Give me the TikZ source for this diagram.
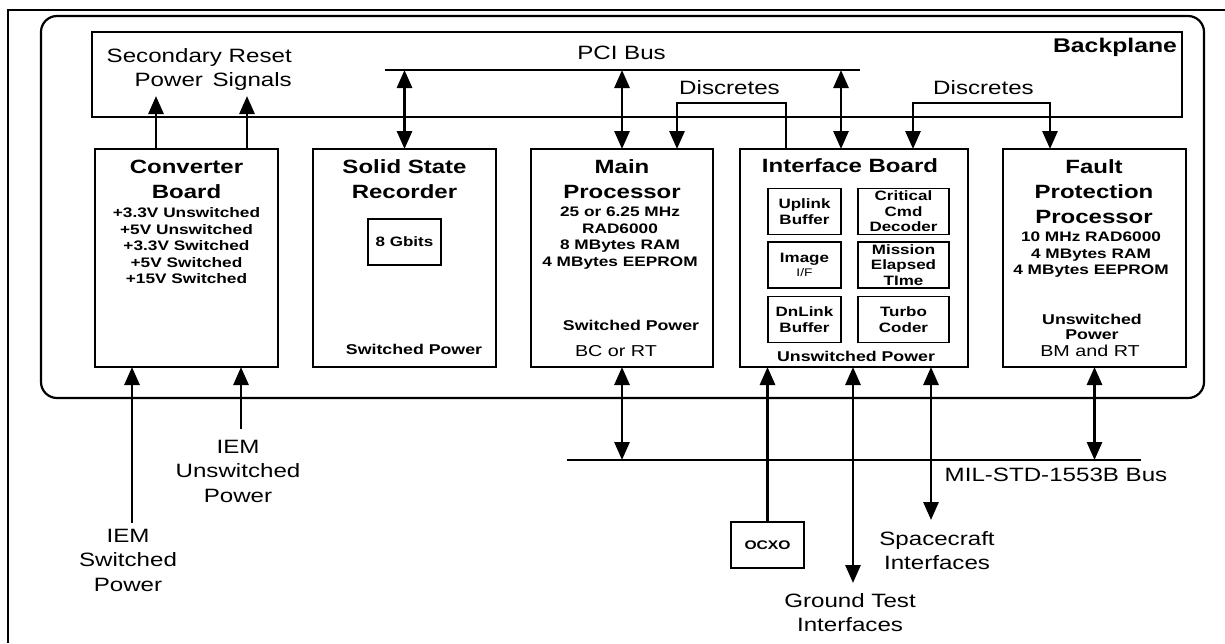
\documentclass[tikz,border=0pt]{standalone}
\usepackage{fontspec}
\setmainfont{Liberation Sans}[FakeStretch=1.25]
\usetikzlibrary{arrows.meta}
\begin{document}
\begin{tikzpicture}[x=1pt,y=-1pt,
  board/.style={draw, line width=2.9pt, inner sep=0pt, outer sep=0pt},
  sub/.style={draw, line width=1.7pt, inner sep=0pt, outer sep=0pt, minimum height=46pt,
    font=\bfseries\fontsize{13.6}{16}\selectfont, align=center},
  arr/.style={line width=2.9pt, -{Triangle[length=18pt,width=15pt]}},
  darr/.style={line width=2.9pt, {Triangle[length=18pt,width=15pt]}-{Triangle[length=18pt,width=15pt]}},
  bus/.style={line width=2.9pt},
  ttl/.style={font=\bfseries\fontsize{19.2}{25}\selectfont, align=center, inner sep=0pt, anchor=north},
  det/.style={font=\bfseries\fontsize{13.8}{16.5}\selectfont, align=center, inner sep=0pt, anchor=north},
  pwr/.style={font=\bfseries\fontsize{14.2}{15.5}\selectfont, align=center, inner sep=0pt, anchor=north},
  lbl/.style={font=\fontsize{19.3}{24.5}\selectfont, align=center, inner sep=0pt, anchor=north},
  sml/.style={font=\fontsize{15.8}{18}\selectfont, align=center, inner sep=0pt, anchor=north}]
\useasboundingbox (0,0) rectangle (1225,643);
% outer frame
\draw[line width=2.6pt] (8,643) -- (8,10) -- (1225,10);
% backplane outline and bar
\node[draw, line width=2.2pt, rounded corners=16pt, minimum width=1163pt, minimum height=382pt, inner sep=0pt] (bpo) at (622.5,207) {};
\node[draw, line width=2.6pt, minimum width=1090pt, minimum height=85pt, inner sep=0pt] (bpr) at (637,74.5) {};
\node[font=\bfseries\fontsize{19.8}{24}\selectfont, inner sep=0pt, anchor=north] (bpt) at (1115,38) {Backplane};
\node[lbl, align=right, anchor=north east] (srt) at (292,48) {Secondary Reset\\Power\enspace Signals};
\node[lbl] (pcit) at (621.5,46) {PCI Bus};
\node[lbl] (d1t) at (729.5,80) {Discretes};
\node[lbl] (d2t) at (983.5,80) {Discretes};
% boards
\node[board, minimum width=183pt, minimum height=218pt] (cb) at (186.5,258) {};
\node[board, minimum width=183pt, minimum height=218pt] (ssr) at (404.5,258) {};
\node[board, minimum width=182pt, minimum height=218pt] (mp) at (622,258) {};
\node[board, minimum width=228pt, minimum height=218pt] (ib) at (854,258) {};
\node[board, minimum width=183pt, minimum height=218pt] (fp) at (1094.5,258) {};
% converter text
\node[ttl] (cbt) at (186.5,159.5) {Converter\\Board};
\node[det] (cbd) at (186.5,207.5) {+3.3V Unswitched\\+5V Unswitched\\+3.3V Switched\\+5V Switched\\+15V Switched};
% SSR text
\node[ttl] (ssrt) at (404.5,159.5) {Solid State\\Recorder};
\node[sub, minimum width=73pt] (gb) at (404.5,242) {8 Gbits};
\node[pwr] (ssrp) at (414,344) {Switched Power};
% main processor text
\node[ttl] (mpt) at (622,159.5) {Main\\Processor};
\node[det] (mpd) at (620,207) {25 or 6.25 MHz\\RAD6000\\8 MBytes RAM\\4 MBytes EEPROM};
\node[pwr] (mpp) at (631,320) {Switched Power};
\node[sml] (mpb) at (616,345) {BC or RT};
% interface board
\node[ttl] (ibt) at (850,158) {Interface Board};
\node[sub, minimum width=73pt] (ub) at (804.5,211.5) {Uplink\\Buffer};
\node[sub, minimum width=73pt] (imf) at (804.5,265) {Image\\[-2pt]{\mdseries\fontsize{11}{12}\selectfont I/F}};
\node[sub, minimum width=73pt] (dl) at (804.5,319.5) {DnLink\\Buffer};
\node[sub, minimum width=91pt, font=\bfseries\fontsize{13.6}{15.5}\selectfont] (ccd) at (903.5,211.5) {Critical\\Cmd\\Decoder};
\node[sub, minimum width=91pt, font=\bfseries\fontsize{13.6}{15.5}\selectfont] (met) at (903.5,265) {Mission\\Elapsed\\TIme};
\node[sub, minimum width=91pt] (tc) at (903.5,319.5) {Turbo\\Coder};
\node[pwr] (ibp) at (856,351) {Unswitched Power};
% fault protection
\node[ttl] (fpt) at (1094,159.5) {Fault\\Protection\\Processor};
\node[det] (fpd) at (1091,232) {10 MHz RAD6000\\4 MBytes RAM\\4 MBytes EEPROM};
\node[pwr] (fpp) at (1092,314) {Unswitched\\Power};
\node[sml] (fpb) at (1090,345) {BM and RT};
% PCI bus
\coordinate (pciL) at (385,70);
\coordinate (pciR) at (860,70);
\coordinate (pciI) at (841,70);
\draw[bus] (pciL) -- (pciR);
\draw[darr] (ssr.north |- pciL) -- (ssr.north);
\draw[darr] (mp.north |- pciL) -- (mp.north);
\draw[darr] (pciI) -- (pciI |- ib.north);
% discretes
\coordinate (d1a) at (786,103);
\coordinate (d1b) at (677,103);
\draw[arr] (d1a |- ib.north) -- (d1a) -- (d1b) -- (d1b |- mp.north);
\coordinate (d2a) at (913,103);
\coordinate (d2b) at (1050,103);
\draw[darr] (d2a |- ib.north) -- (d2a) -- (d2b) -- (d2b |- fp.north);
% converter outputs
\coordinate (spw) at (156,96);
\coordinate (rsg) at (247,96);
\draw[arr] (spw |- cb.north) -- (spw);
\draw[arr] (rsg |- cb.north) -- (rsg);
% converter inputs
\coordinate (iemS) at (132,523);
\coordinate (iemU) at (241,429);
\draw[arr] (iemS) -- (iemS |- cb.south);
\draw[arr] (iemU) -- (iemU |- cb.south);
\node[lbl] (iemSt) at (128,529) {IEM\\Switched\\Power};
\node[lbl] (iemUt) at (238,440) {IEM\\Unswitched\\Power};
% MIL-STD-1553B bus
\coordinate (milL) at (567,460);
\coordinate (milR) at (1141,460);
\draw[bus] (milL) -- (milR);
\node[lbl] (milt) at (1056,468) {MIL-STD-1553B Bus};
\draw[darr] (mp.south) -- (mp.south |- milL);
\draw[darr] (fp.south) -- (fp.south |- milL);
% OCXO
\node[draw, line width=2.2pt, minimum width=73pt, minimum height=46pt, inner sep=0pt,
  font=\bfseries\fontsize{12.5}{14}\selectfont] (ocxo) at (767.5,545) {OCXO};
\draw[arr] (ocxo.north) -- (ocxo.north |- ib.south);
% ground test and spacecraft interfaces
\coordinate (gt) at (853,583);
\coordinate (sc) at (931,520);
\draw[darr] (gt |- ib.south) -- (gt);
\draw[darr] (sc |- ib.south) -- (sc);
\node[lbl] (gtt) at (850,593) {Ground Test\\Interfaces};
\node[lbl] (sct) at (937,531) {Spacecraft\\Interfaces};
\end{tikzpicture}
\end{document}
